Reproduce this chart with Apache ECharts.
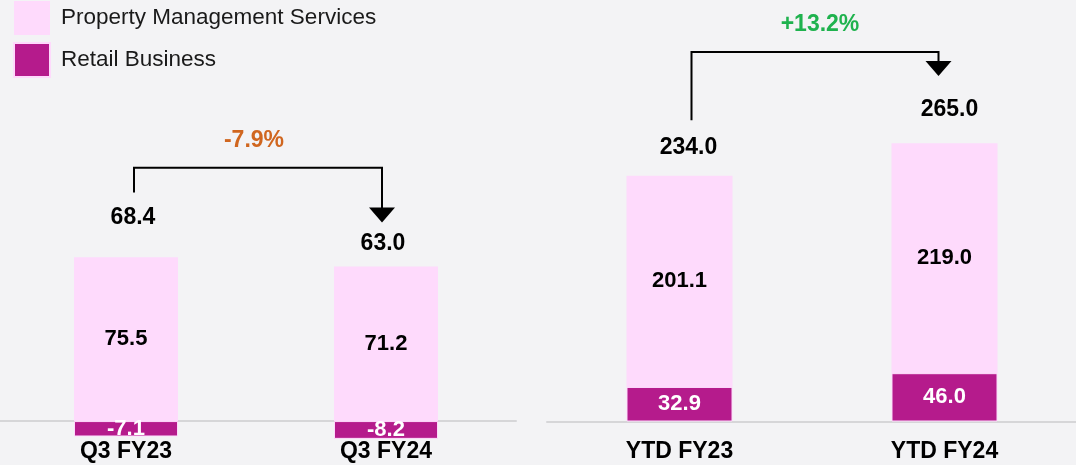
<!DOCTYPE html>
<html>
<head>
<meta charset="utf-8">
<script src="https://cdn.jsdelivr.net/npm/echarts@6/dist/echarts.min.js"></script>
<style>
  html, body { margin: 0; padding: 0; background: #f3f3f5; }
  #chart { width: 1076px; height: 465px; }
</style>
</head>
<body>
<div id="chart"></div>
<script>
// 数据
const categoriesQ = ['Q3 FY23', 'Q3 FY24'];
const categoriesYtd = ['YTD FY23', 'YTD FY24'];
const propertyQ = [75.5, 71.2];
const retailQ = [-7.1, -8.2];
const propertyYtd = [201.1, 219.0];
const retailYtd = [32.9, 46.0];
const changeLabels = ['-7.9%', '+13.2%'];

const FONT = 'Liberation Sans, Arial, sans-serif';
const PMS = '#fedafc';
const RETAIL = '#b51b8c';

function totals(a, b) {
  return a.map((v, i) => [i, Math.max(v, v + b[i], 0), v + b[i]]);
}

// 总计标签 (相对柱顶的像素偏移)
function totalRender(dx, dy) {
  return function (params, api) {
    const i = api.value(0);
    const p = api.coord([i, api.value(1)]);
    return {
      type: 'text',
      style: {
        text: api.value(2).toFixed(1),
        x: p[0] + dx[i], y: p[1] - dy[i],
        align: 'center', verticalAlign: 'middle',
        fontFamily: FONT, fontWeight: 'bold', fontSize: 23, fill: '#000'
      }
    };
  };
}

// 箭头
function bracketRender(cfg) {
  return function (params, api) {
    const a = api.coord([0, cfg.start]);
    const b = api.coord([1, cfg.top]);
    const t = api.coord([1, cfg.tip]);
    const x0 = a[0] + cfg.dx0, x1 = t[0] + cfg.dx1;
    const yt = b[1], tip = t[1];
    const lp = api.coord([0, cfg.label]);
    return {
      type: 'group',
      children: [
        { type: 'polyline', shape: { points: [[x0, a[1]], [x0, yt], [x1, yt], [x1, tip - 14]] },
          style: { stroke: '#000', lineWidth: 2, fill: null } },
        { type: 'polygon', shape: { points: [[x1 - 13, tip - 15], [x1 + 13, tip - 15], [x1, tip]] },
          style: { fill: '#000' } },
        { type: 'text', style: { text: cfg.text, x: (x0 + x1) / 2 + cfg.ldx, y: lp[1],
            align: 'center', verticalAlign: 'middle', fontFamily: FONT, fontWeight: 'bold',
            fontSize: 23, fill: cfg.color } }
      ]
    };
  };
}

const barLabel = (color) => ({
  show: true, position: 'inside', color: color,
  fontFamily: FONT, fontWeight: 'bold', fontSize: 22,
  formatter: (p) => p.value.toFixed(1)
});

const xAxisBase = {
  type: 'category',
  axisLine: { onZero: true, lineStyle: { color: '#d6d6d8', width: 2 } },
  axisTick: { show: false },
  axisLabel: { color: '#000', fontFamily: FONT, fontWeight: 'bold', fontSize: 23, margin: 0 }
};

var option = {
  backgroundColor: '#f3f3f5',
  animation: false,
  legend: {
    orient: 'vertical', left: 8, top: -4,
    itemWidth: 36, itemHeight: 34, itemGap: 7,
    icon: 'rect',
    data: ['Property Management Services', 'Retail Business'],
    textStyle: { fontFamily: FONT, fontSize: 22.5, color: '#1a1a1a', padding: [0, 0, 0, 6] }
  },
  grid: [
    { left: -4, width: 520, top: 30.5, height: 410.1, outerBoundsMode: 'none', containLabel: false },
    { left: 547, width: 530, top: 1.5, height: 438.9, outerBoundsMode: 'none', containLabel: false }
  ],
  xAxis: [
    Object.assign({ gridIndex: 0, data: categoriesQ }, xAxisBase),
    Object.assign({ gridIndex: 1, data: categoriesYtd }, xAxisBase)
  ],
  yAxis: [
    { gridIndex: 0, type: 'value', min: -9, max: 180, show: false, splitLine: { show: false } },
    { gridIndex: 1, type: 'value', min: -18, max: 400, show: false, splitLine: { show: false } }
  ],
  series: [
    { name: 'Retail Business', type: 'bar', stack: 'q', xAxisIndex: 0, yAxisIndex: 0,
      barWidth: '40%', data: retailQ, itemStyle: { color: RETAIL, borderColor: PMS, borderWidth: 1 },
      label: barLabel('#fff') },
    { name: 'Property Management Services', type: 'bar', stack: 'q', xAxisIndex: 0, yAxisIndex: 0,
      barWidth: '40%', data: propertyQ, itemStyle: { color: PMS },
      label: barLabel('#000') },
    { name: 'Retail Business', type: 'bar', stack: 'y', xAxisIndex: 1, yAxisIndex: 1,
      barWidth: '40%', data: retailYtd, itemStyle: { color: RETAIL, borderColor: PMS, borderWidth: 1 },
      label: barLabel('#fff') },
    { name: 'Property Management Services', type: 'bar', stack: 'y', xAxisIndex: 1, yAxisIndex: 1,
      barWidth: '40%', data: propertyYtd, itemStyle: { color: PMS },
      label: barLabel('#000') },
    { type: 'custom', xAxisIndex: 0, yAxisIndex: 0, silent: true,
      renderItem: totalRender([7, -3], [40, 23]), data: totals(propertyQ, retailQ) },
    { type: 'custom', xAxisIndex: 1, yAxisIndex: 1, silent: true,
      renderItem: totalRender([9, 5], [28, 34]), data: totals(propertyYtd, retailYtd) },
    { type: 'custom', xAxisIndex: 0, yAxisIndex: 0, silent: true,
      renderItem: bracketRender({ start: 105.3, top: 116.8, tip: 91.5, dx0: 8, dx1: -4,
        label: 129.3, ldx: -4, color: '#d0661f', text: changeLabels[0] }),
      data: [[0, 1]] },
    { type: 'custom', xAxisIndex: 1, yAxisIndex: 1, silent: true,
      renderItem: bracketRender({ start: 287, top: 352, tip: 329, dx0: 12, dx1: -6,
        label: 377.6, ldx: 5, color: '#1fb24e', text: changeLabels[1] }),
      data: [[0, 1]] }
  ]
};

var myChart = echarts.init(document.getElementById('chart'));
myChart.setOption(option);
window.onresize = function () { myChart.resize(); };
</script>
</body>
</html>
